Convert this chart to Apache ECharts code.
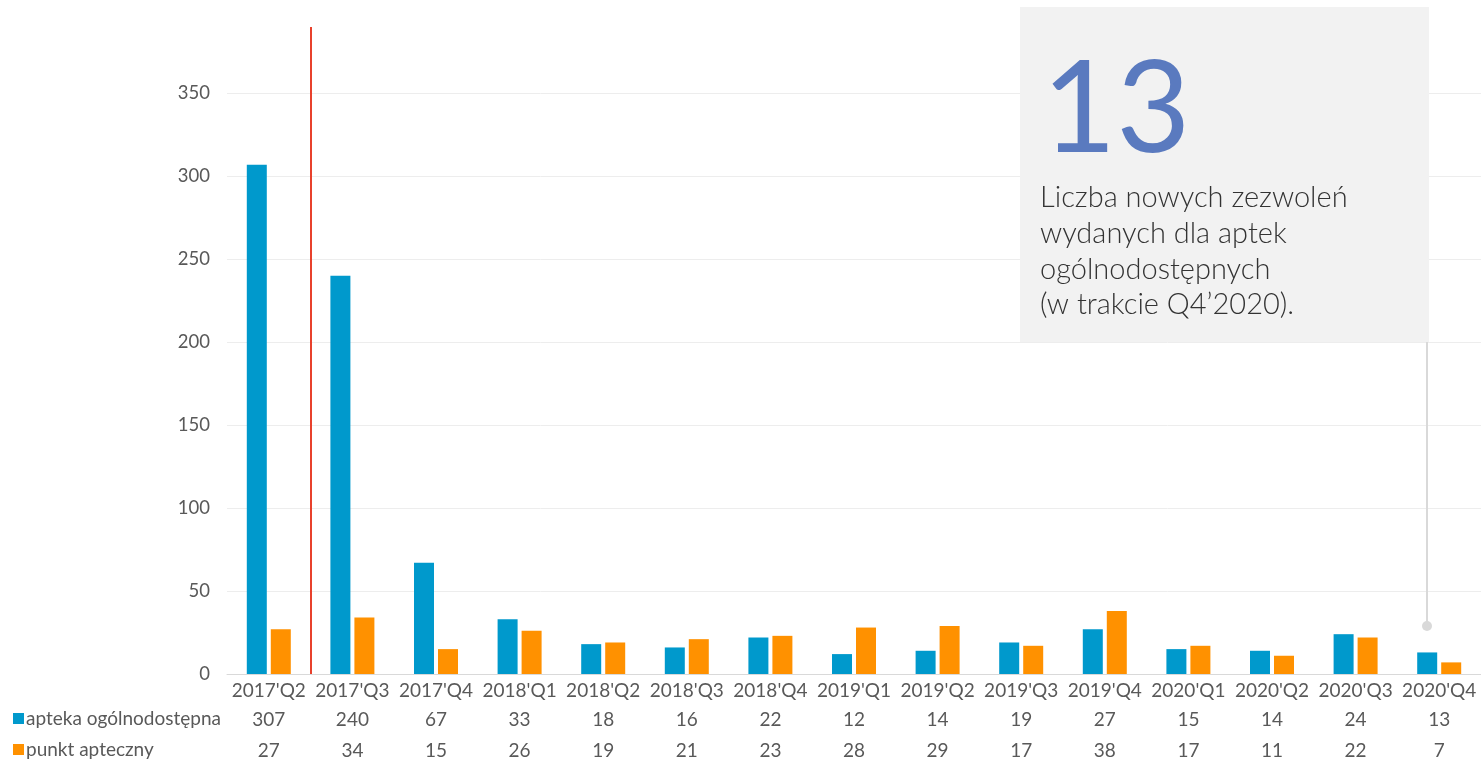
<!DOCTYPE html>
<html><head><meta charset="utf-8">
<script src="https://cdn.jsdelivr.net/npm/echarts@6/dist/echarts.min.js"></script>
<style>html,body{margin:0;padding:0;background:#fff}#c{width:1481px;height:761px}</style>
</head><body><div id="c"></div>
<script>
const categories = ["2017'Q2","2017'Q3","2017'Q4","2018'Q1","2018'Q2","2018'Q3","2018'Q4","2019'Q1","2019'Q2","2019'Q3","2019'Q4","2020'Q1","2020'Q2","2020'Q3","2020'Q4"];
const apteka = [307,240,67,33,18,16,22,12,14,19,27,15,14,24,13];
const punkt = [27,34,15,26,19,21,23,28,29,17,38,17,11,22,7];
const seriesNames = ['apteka ogólnodostępna','punkt apteczny'];
const yTicks = [0,50,100,150,200,250,300,350];
const calloutNumber = '13';
const calloutText = 'Liczba nowych zezwoleń\nwydanych dla aptek\nogólnodostępnych\n(w trakcie Q4\u20192020).';
const dividerAt = 1;

const chart = echarts.init(document.getElementById('c'));
const FONT = 'Lato';
const labelStyle = {color:'#595959', fontSize:19, fontFamily:FONT};
const tableAxis = (vals, off) => ({
  type:'category', data: vals.map(String), gridIndex:0, position:'bottom', offset:off,
  axisLine:{show:false}, axisTick:{show:false}, splitLine:{show:false},
  axisLabel:Object.assign({interval:0, margin:7}, labelStyle)
});
chart.setOption({
  animation:false,
  grid:{left:227, right:0, top:27, bottom:87},
  legend:[
    {data:[seriesNames[0]], left:8, top:704, padding:5, icon:'rect', itemWidth:11, itemHeight:11, itemGap:4,
     textStyle:Object.assign({padding:[0,0,0,-3]}, labelStyle)},
    {data:[seriesNames[1]], left:8, top:735, padding:5, icon:'rect', itemWidth:11, itemHeight:11, itemGap:4,
     textStyle:Object.assign({padding:[0,0,0,-3]}, labelStyle)}
  ],
  xAxis:[
    {type:'category', data:categories, axisLine:{lineStyle:{color:'#d9d9d9'}}, axisTick:{show:false},
     axisLabel:Object.assign({interval:0, margin:7}, labelStyle)},
    tableAxis(apteka, 29),
    tableAxis(punkt, 60),
    {type:'value', min:0, max:categories.length, show:false, gridIndex:0}
  ],
  yAxis:{type:'value', min:0, max:390, interval:50,
    axisLine:{show:false}, axisTick:{show:false},
    axisLabel:Object.assign({margin:17, showMaxLabel:false, formatter:v=>yTicks.includes(v)?String(v):''}, labelStyle, {fontSize:18.5}),
    splitLine:{lineStyle:{color:['#ededed','#ededed','#ededed','#ededed','#ededed','#ededed','#ededed','#ededed','rgba(0,0,0,0)'], width:1}}
  },
  series:[
    {name:seriesNames[0], type:'bar', data:apteka, barWidth:20, barGap:'20%', itemStyle:{color:'#0099cc'}},
    {name:seriesNames[1], type:'bar', data:punkt, barWidth:20, itemStyle:{color:'#ff9100'}},
    {type:'line', xAxisIndex:3, data:[], silent:true,
     markLine:{silent:true, symbol:'none', label:{show:false},
       lineStyle:{color:'#e8412c', width:2, type:'solid'}, data:[{xAxis:dividerAt}]}}
  ],
  graphic:[
    {type:'rect', shape:{x:1020, y:7, width:409, height:335}, style:{fill:'#f2f2f2'}, z:10},
    {type:'line', shape:{x1:1427, y1:342, x2:1427, y2:626}, style:{stroke:'#d9d9d9', lineWidth:2}, z:10},
    {type:'circle', shape:{cx:1427, cy:626, r:5}, style:{fill:'#d9d9d9'}, z:10},
    {type:'text', x:1042, y:111, style:{text:calloutNumber, fill:'#5a7abf', font:'400 128px Lato', verticalAlign:'middle'}, z:11},
    {type:'text', x:1040, y:180, style:{text:calloutText, fill:'#333333', font:'300 29px Lato', lineHeight:35.7, verticalAlign:'top'}, z:11}
  ]
});
</script></body></html>
